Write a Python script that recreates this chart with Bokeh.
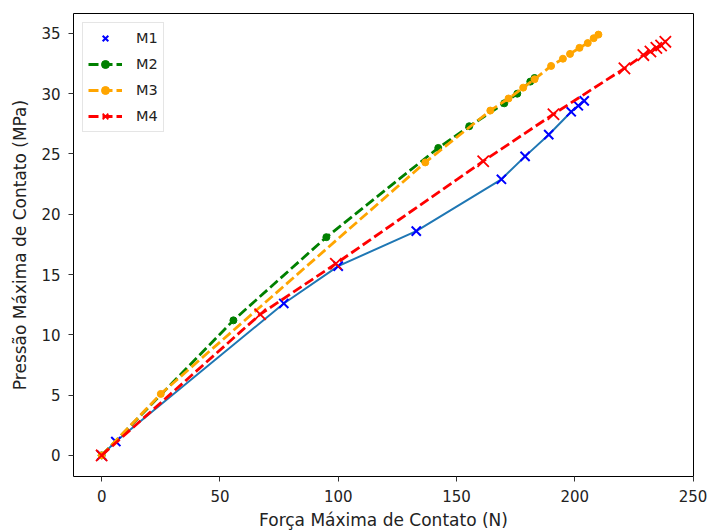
from bokeh.plotting import figure
from bokeh.models import Range1d, FixedTicker, Legend, LegendItem
from bokeh.embed import file_html
from bokeh.resources import INLINE

# Data
m1_x = [0, 6, 77, 100, 133, 169, 179, 189, 198.5, 201.5, 204]
m1_y = [0, 1.15, 12.6, 15.7, 18.6, 22.9, 24.8, 26.6, 28.5, 29.0, 29.4]

m2_x = [0, 55.7, 95, 142.3, 155.4, 170.2, 175.7, 181.2, 183]
m2_y = [0, 11.2, 18.1, 25.5, 27.3, 29.2, 30.0, 31.0, 31.3]

m3_x = [0, 25, 136.8, 164.3, 172, 178.2, 183, 190, 195, 198, 202, 205.5, 208, 210]
m3_y = [0, 5.1, 24.3, 28.6, 29.6, 30.5, 31.2, 32.3, 32.9, 33.3, 33.8, 34.2, 34.6, 34.9]

m4_x = [0, 67, 99, 161.3, 191, 221, 229, 232, 234.5, 236.5, 238.3]
m4_y = [0, 11.7, 15.9, 24.4, 28.3, 32.1, 33.2, 33.5, 33.8, 34.0, 34.3]

x_ticks = [0, 50, 100, 150, 200, 250]
y_ticks = [0, 5, 10, 15, 20, 25, 30, 35]

FONT = "DejaVu Sans"

p = figure(width=709, height=532, output_backend="svg", toolbar_location=None,
           x_range=Range1d(-11.9, 250.2), y_range=Range1d(-1.75, 36.65),
           min_border_left=73, min_border_right=16, min_border_top=13, min_border_bottom=56)

p.xgrid.visible = False
p.ygrid.visible = False
p.outline_line_color = "black"
p.outline_line_width = 1
p.background_fill_color = "white"
p.border_fill_color = "white"

for ax in (p.xaxis[0], p.yaxis[0]):
    ax.axis_line_color = None
    ax.major_tick_out = 5
    ax.major_tick_in = 0
    ax.minor_tick_out = 0
    ax.minor_tick_in = 0
    ax.major_tick_line_color = "#333333"
    ax.major_label_text_font = FONT
    ax.major_label_text_font_size = "15px"
    ax.major_label_text_color = "#222222"
    ax.axis_label_text_font = FONT
    ax.axis_label_text_font_size = "17px"
    ax.axis_label_text_font_style = "normal"
    ax.axis_label_text_color = "#222222"

p.xaxis.ticker = FixedTicker(ticks=x_ticks)
p.yaxis.ticker = FixedTicker(ticks=y_ticks)
p.xaxis.axis_label = "Força Máxima de Contato (N)"
p.yaxis.axis_label = "Pressão Máxima de Contato (MPa)"
p.xaxis.major_label_standoff = 8
p.yaxis.major_label_standoff = 8
p.xaxis.axis_label_standoff = 5
p.yaxis.axis_label_standoff = 8

DASH = "10 4"

# M1
p.line(m1_x, m1_y, line_color="#1f77b4", line_width=2)
r1 = p.scatter(m1_x, m1_y, marker="x", size=13, line_color="#0000ff", line_width=2)

# M2
r2l = p.line(m2_x, m2_y, line_color="#008000", line_width=2.8, line_dash=DASH)
r2s = p.scatter(m2_x, m2_y, marker="circle", size=7, fill_color="#008000", line_color="#008000")

# M3
r3l = p.line(m3_x, m3_y, line_color="#ffa500", line_width=2.8, line_dash=DASH)
r3s = p.scatter(m3_x, m3_y, marker="circle", size=7, fill_color="#ffa500", line_color="#ffa500")

# M4
r4l = p.line(m4_x, m4_y, line_color="#ff0000", line_width=2.8, line_dash=DASH)
r4s = p.scatter(m4_x, m4_y, marker="x", size=16, line_color="#ff0000", line_width=1.8)

legend = Legend(items=[
    LegendItem(label="M1", renderers=[r1]),
    LegendItem(label="M2", renderers=[r2l, r2s]),
    LegendItem(label="M3", renderers=[r3l, r3s]),
    LegendItem(label="M4", renderers=[r4l, r4s]),
], location="top_left")
legend.label_text_font = FONT
legend.label_text_font_size = "14.5px"
legend.label_text_color = "#222222"
legend.border_line_color = "#cccccc"
legend.border_line_width = 1
legend.background_fill_alpha = 0.8
legend.glyph_width = 34
legend.glyph_height = 20
legend.label_standoff = 14
legend.spacing = 6
legend.padding = 5
legend.margin = 9
p.add_layout(legend)

open("out.html", "w").write(file_html(p, INLINE))
